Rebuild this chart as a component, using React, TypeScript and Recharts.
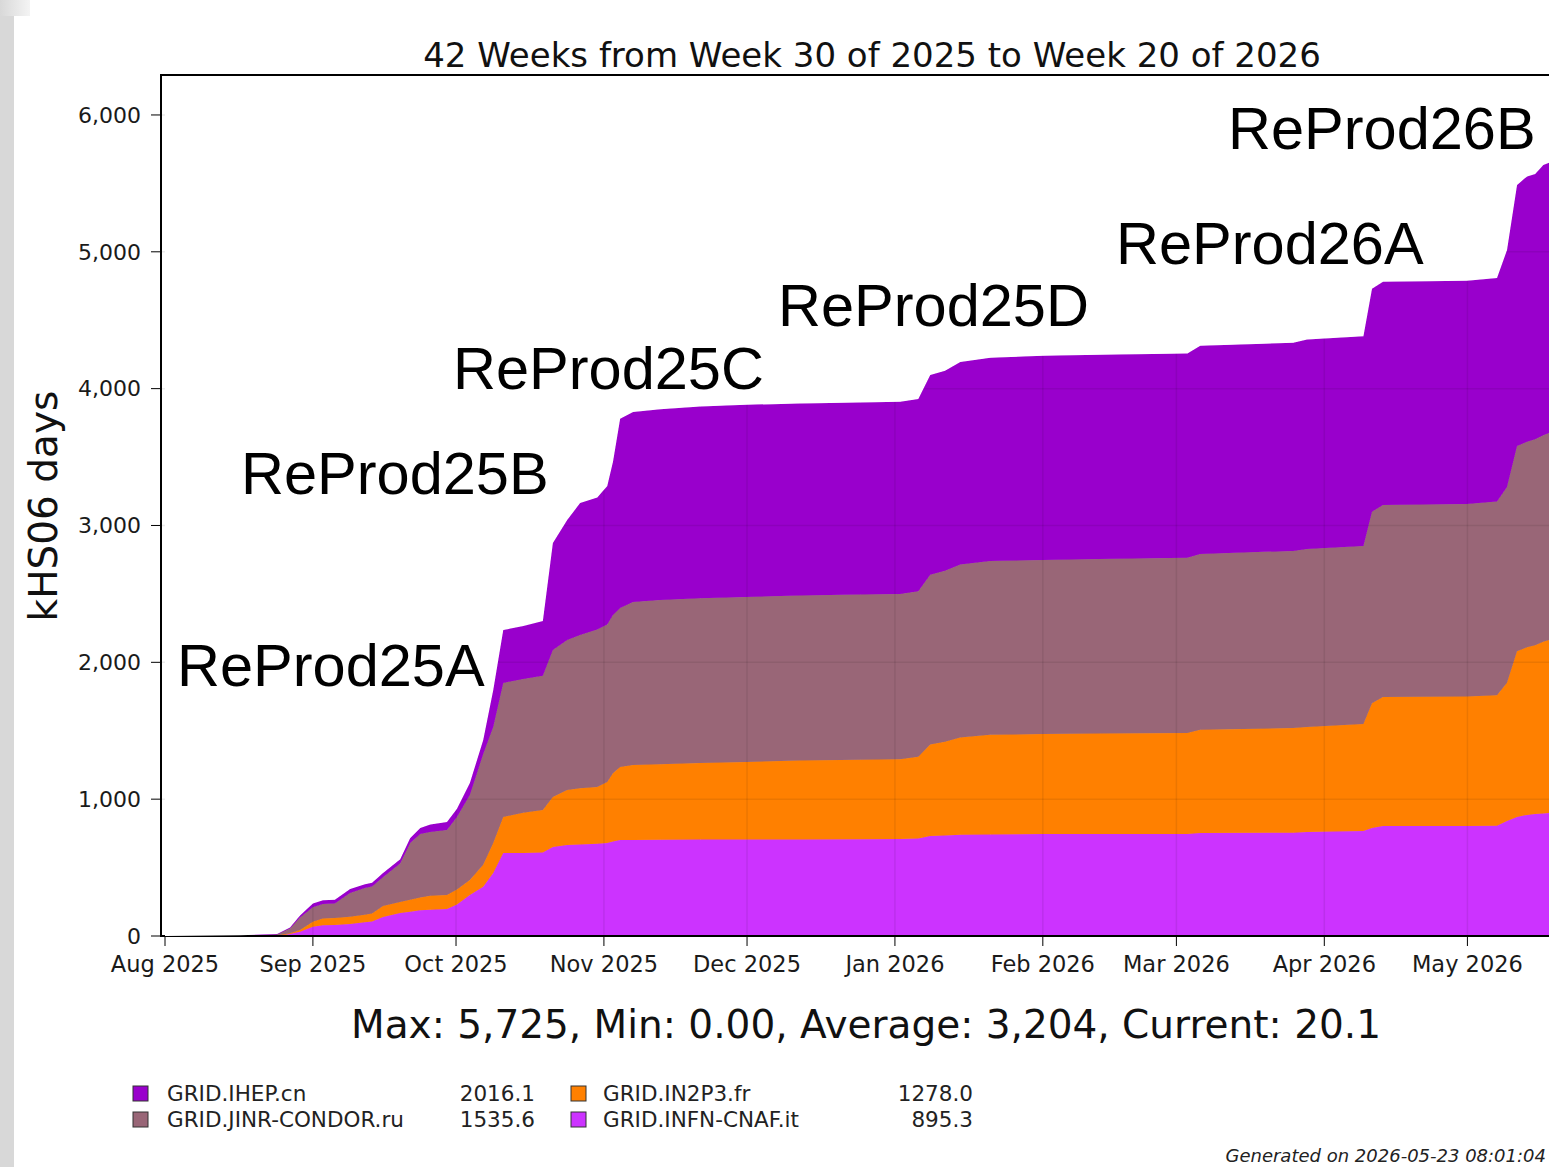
import React from 'react';
import { AreaChart, Area, XAxis, YAxis, ReferenceLine } from 'recharts';

// x position: days since 1 Aug 2025
const days = [0, 15.7, 23.5, 26.2, 28.3, 31.0, 33.1, 35.6, 38.8, 41.9, 43.4, 45.7, 49.3, 51.4, 53.5, 55.6, 59.1, 61.2, 63.9, 66.7, 68.8, 70.9, 75.1, 79.2, 81.3, 84.3, 87.0, 90.6, 92.7, 93.9, 95.4, 98.1, 103.8, 112.2, 121.8, 133.1, 145.7, 154.1, 157.9, 160.4, 163.5, 166.7, 173.0, 184.1, 196.0, 214.3, 217.0, 236.5, 239.4, 251.2, 253.0, 255.3, 272.9, 279.2, 281.3, 283.4, 285.5, 287.2, 288.9, 290.1];

const infn = [0, 0, 2, 15, 31, 68, 78, 80, 88, 100, 106, 139, 168, 178, 188, 192, 197, 230, 300, 360, 460, 607, 607, 610, 650, 665, 668, 675, 680, 690, 702, 702, 703, 705, 706, 706, 707, 708, 712, 730, 735, 740, 742, 745, 745, 746, 752, 755, 760, 767, 790, 804, 804, 806, 840, 870, 885, 891, 896, 899];
const in2p3 = [0, 0, 1, 5, 13, 37, 50, 52, 52, 55, 59, 80, 80, 87, 94, 103, 103, 110, 110, 160, 220, 263, 293, 311, 366, 402, 412, 414, 445, 500, 533, 548, 552, 560, 566, 576, 581, 584, 598, 670, 685, 710, 728, 731, 735, 738, 756, 765, 767, 782, 910, 943, 946, 954, 1010, 1210, 1225, 1234, 1254, 1264];
const jinr = [0, 4, 9, 35, 91, 105, 105, 105, 175, 195, 196, 211, 282, 415, 463, 465, 475, 530, 620, 810, 847, 979, 979, 980, 1074, 1096, 1120, 1151, 1152, 1155, 1162, 1191, 1201, 1203, 1206, 1206, 1207, 1208, 1210, 1240, 1250, 1265, 1270, 1272, 1275, 1281, 1284, 1294, 1301, 1301, 1400, 1403, 1407, 1415, 1431, 1501, 1502, 1505, 1510, 1513];
const ihep = [0, 1, 3, 7, 15, 28, 28, 28, 28, 28, 28, 30, 30, 36, 44, 55, 58, 60, 88, 102, 271, 387, 387, 401, 782, 877, 964, 964, 1012, 1120, 1383, 1389, 1394, 1402, 1404, 1404, 1404, 1404, 1404, 1460, 1460, 1480, 1485, 1492, 1492, 1492, 1521, 1521, 1532, 1533, 1630, 1632, 1632, 1634, 1732, 1907, 1939, 1939, 1975, 1975];

const monthTicks = [0, 31, 61, 92, 122, 153, 184, 212, 243, 273];
const monthLabels = ['Aug 2025', 'Sep 2025', 'Oct 2025', 'Nov 2025', 'Dec 2025', 'Jan 2026', 'Feb 2026', 'Mar 2026', 'Apr 2026', 'May 2026'];
const yTicks = [0, 1000, 2000, 3000, 4000, 5000, 6000];
const yMax = 6292;

const siteNames = ['GRID.IHEP.cn', 'GRID.JINR-CONDOR.ru', 'GRID.IN2P3.fr', 'GRID.INFN-CNAF.it'];
const siteTotals = ['2016.1', '1535.6', '1278.0', '895.3'];
const siteColors = ['#9900cc', '#996677', '#ff8000', '#cc33ff'];

const campaigns = ['ReProd25A', 'ReProd25B', 'ReProd25C', 'ReProd25D', 'ReProd26A', 'ReProd26B'];

const titleText = '42 Weeks from Week 30 of 2025 to Week 20 of 2026';
const statsText = 'Max: 5,725, Min: 0.00, Average: 3,204, Current: 20.1';
const generatedText = 'Generated on 2026-05-23 08:01:04';
const yLabel = 'kHS06 days';

const data = days.map((d, i) => {
  const total = infn[i] + in2p3[i] + jinr[i] + ihep[i];
  return {
    day: d,
    infn: infn[i],
    in2p3: in2p3[i],
    jinr: jinr[i],
    ihep: ihep[i],
    total,
    cap: yMax - total,
  };
});

const fmt = (v: number) => v.toLocaleString('en-US');
const FONT = "'DejaVu Sans', sans-serif";

// campaign label positions [x, baseline]
const campaignPos: [number, number][] = [
  [177, 686],
  [241, 494],
  [453, 389],
  [778, 326],
  [1116, 264],
  [1228, 149],
];

const W = 1549;
const H = 1167;

export default function App() {
  return (
    <div style={{ position: 'absolute', left: 0, top: 0, width: W, height: H, overflow: 'hidden', background: '#ffffff' }}>
      <div style={{ position: 'absolute', left: 0, top: 0, width: 14, height: H, background: '#d8d8d8' }} />
      <div style={{ position: 'absolute', left: 0, top: 0, width: 30, height: 16, background: 'linear-gradient(90deg, #d8d8d8, #f4f4f4)' }} />
      {/* main chart: stacked areas, axes, grid */}
      <div style={{ position: 'absolute', left: 0, top: 0 }}>
        <AreaChart width={W} height={H} data={data} margin={{ top: 75, right: 0, bottom: 191, left: 0 }}>
          <XAxis
            dataKey="day"
            type="number"
            domain={[-0.84, 290.1]}
            allowDataOverflow
            ticks={monthTicks}
            tickFormatter={(v: number) => monthLabels[monthTicks.indexOf(v)] ?? ''}
            height={40}
            tickSize={10}
            tickMargin={10}
            axisLine={{ stroke: '#000', strokeWidth: 2 }}
            tickLine={{ stroke: '#000', strokeWidth: 1 }}
            tick={{ fill: '#1a1a1a', fontSize: 22.5, fontFamily: FONT }}
            interval={0}
          />
          <YAxis
            type="number"
            domain={[0, yMax]}
            allowDataOverflow
            ticks={yTicks}
            tickFormatter={fmt}
            width={161}
            tickSize={10}
            tickMargin={10}
            axisLine={{ stroke: '#000', strokeWidth: 2 }}
            tickLine={{ stroke: '#000', strokeWidth: 1 }}
            tick={{ fill: '#1a1a1a', fontSize: 22, fontFamily: FONT }}
            interval={0}
          />
          <Area type="linear" dataKey="infn" stackId="1" fill={siteColors[3]} fillOpacity={1} stroke={siteColors[3]} strokeWidth={1} isAnimationActive={false} dot={false} activeDot={false} />
          <Area type="linear" dataKey="in2p3" stackId="1" fill={siteColors[2]} fillOpacity={1} stroke={siteColors[2]} strokeWidth={1} isAnimationActive={false} dot={false} activeDot={false} />
          <Area type="linear" dataKey="jinr" stackId="1" fill={siteColors[1]} fillOpacity={1} stroke={siteColors[1]} strokeWidth={1} isAnimationActive={false} dot={false} activeDot={false} />
          <Area type="linear" dataKey="ihep" stackId="1" fill={siteColors[0]} fillOpacity={1} stroke={siteColors[0]} strokeWidth={1} isAnimationActive={false} dot={false} activeDot={false} />
          {monthTicks.slice(1).map((t) => (
            <ReferenceLine key={'vx' + t} x={t} stroke="#000" strokeOpacity={0.08} strokeWidth={1.5} />
          ))}
          {yTicks.slice(1).map((t) => (
            <ReferenceLine key={'hy' + t} y={t} stroke="#000" strokeOpacity={0.08} strokeWidth={1.5} />
          ))}
        </AreaChart>
      </div>
      {/* white cap above the stacked total, hides the grid in the empty region */}
      <div style={{ position: 'absolute', left: 0, top: 0, pointerEvents: 'none' }}>
        <AreaChart width={W} height={H} data={data} margin={{ top: 75, right: 0, bottom: 231, left: 161 }}>
          <XAxis dataKey="day" type="number" domain={[-0.84, 290.1]} allowDataOverflow hide />
          <YAxis type="number" domain={[0, yMax]} allowDataOverflow hide />
          <Area type="linear" dataKey="total" stackId="c" fill="none" stroke="none" isAnimationActive={false} dot={false} activeDot={false} />
          <Area type="linear" dataKey="cap" stackId="c" fill="#ffffff" fillOpacity={1} stroke="none" isAnimationActive={false} dot={false} activeDot={false} />
        </AreaChart>
      </div>
      <svg width={W} height={H} style={{ position: 'absolute', left: 0, top: 0, pointerEvents: 'none' }}>
        <line x1={161} y1={75} x2={W} y2={75} stroke="#000" strokeWidth={2} />
        <line x1={161} y1={74} x2={161} y2={937} stroke="#000" strokeWidth={2} />
        <text x={872} y={67} textAnchor="middle" fontFamily={FONT} fontSize={34} fill="#111">{titleText}</text>
        <text transform="translate(57,506) rotate(-90)" textAnchor="middle" fontFamily={FONT} fontSize={39} fill="#111">{yLabel}</text>
        {campaigns.map((c, i) => (
          <text key={c} x={campaignPos[i][0]} y={campaignPos[i][1]} fontFamily="'Liberation Sans', Arial, sans-serif" fontSize={59.5} fill="#000">{c}</text>
        ))}
        <text x={866} y={1038} textAnchor="middle" fontFamily={FONT} fontSize={39} fill="#111">{statsText}</text>
        {siteNames.map((s, i) => {
          const col = i < 2 ? 0 : 1;
          const row = i % 2;
          const sx = col === 0 ? 133 : 571;
          const tx = col === 0 ? 167 : 603;
          const vx = col === 0 ? 535 : 973;
          const by = 1101 + row * 26;
          return (
            <g key={s}>
              <rect x={sx} y={by - 15} width={15} height={15} fill={siteColors[i]} stroke="#333" strokeWidth={1} />
              <text x={tx} y={by} fontFamily={FONT} fontSize={21.5} fill="#222">{s}</text>
              <text x={vx} y={by} textAnchor="end" fontFamily={FONT} fontSize={21.5} fill="#222">{siteTotals[i]}</text>
            </g>
          );
        })}
        <text x={1546} y={1162} textAnchor="end" fontFamily={FONT} fontSize={18} fontStyle="italic" fill="#222">{generatedText}</text>
      </svg>
    </div>
  );
}
